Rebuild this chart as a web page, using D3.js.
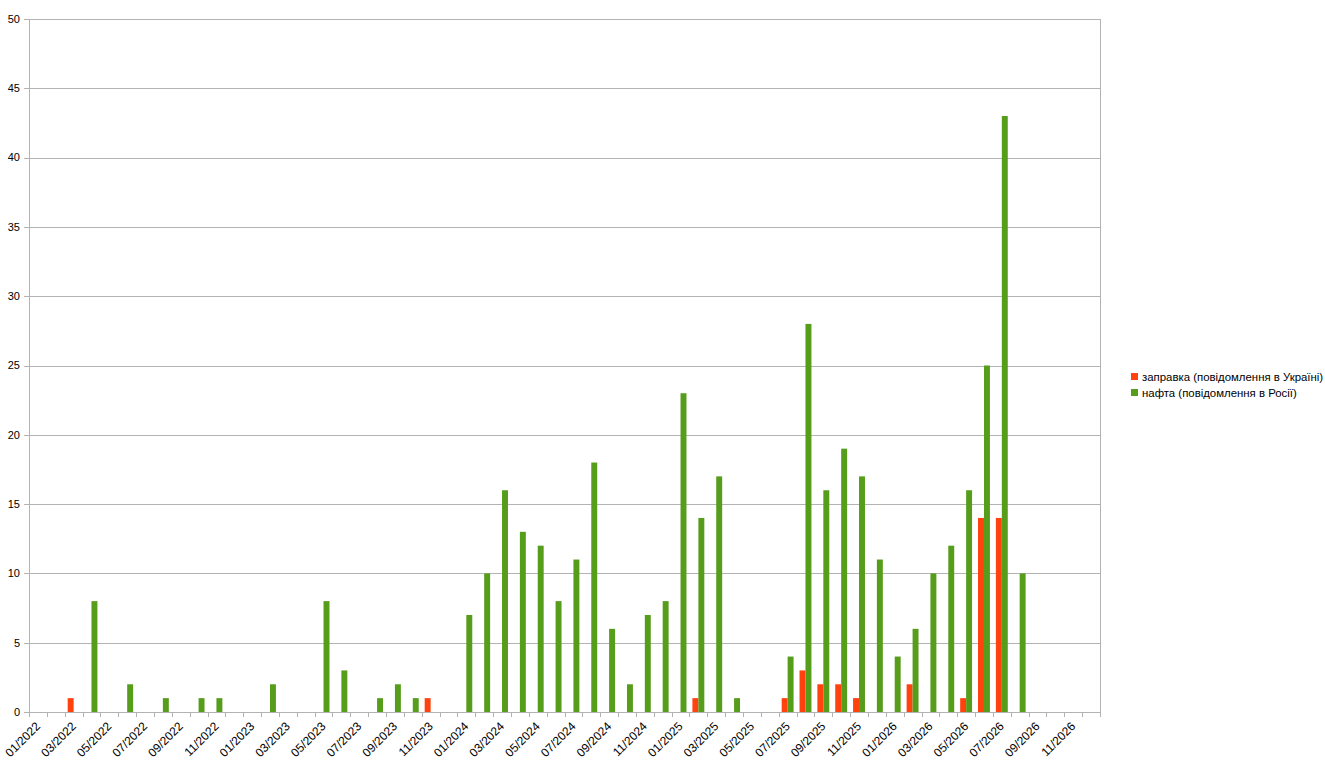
<!DOCTYPE html>
<html>
<head>
<meta charset="utf-8">
<script src="https://cdn.jsdelivr.net/npm/d3@7"></script>
<style>
  body { margin: 0; background: #fff; }
  text { font-family: "Liberation Sans", Arial, sans-serif; font-size: 11px; fill: #000; }
</style>
</head>
<body>
<div id="chart"></div>
<script>
// months 01/2022 .. 12/2026
var months = [];
for (var y = 2022; y <= 2026; y++) {
  for (var m = 1; m <= 12; m++) {
    months.push((m < 10 ? "0" : "") + m + "/" + y);
  }
}

var seriesNames = ["заправка (повідомлення в Україні)", "нафта (повідомлення в Росії)"];
var seriesColors = ["#ff420e", "#579d1c"];

// заправка (Ukraine), by month index
var fuel = [
  0, 0, 1, 0, 0, 0, 0, 0, 0, 0, 0, 0,
  0, 0, 0, 0, 0, 0, 0, 0, 0, 0, 1, 0,
  0, 0, 0, 0, 0, 0, 0, 0, 0, 0, 0, 0,
  0, 1, 0, 0, 0, 0, 1, 3, 2, 2, 1, 0,
  0, 2, 0, 0, 1, 14, 14, 0, 0, 0, 0, 0
];
// нафта (Russia)
var oil = [
  0, 0, 0, 8, 0, 2, 0, 1, 0, 1, 1, 0,
  0, 2, 0, 0, 8, 3, 0, 1, 2, 1, 0, 0,
  7, 10, 16, 13, 12, 8, 11, 18, 6, 2, 7, 8,
  23, 14, 17, 1, 0, 0, 4, 28, 16, 19, 17, 11,
  4, 6, 10, 12, 16, 25, 43, 10, 0, 0, 0, 0
];

var yTicks = [0, 5, 10, 15, 20, 25, 30, 35, 40, 45, 50];

var W = 1325, H = 763;
var margin = { left: 29, top: 19, right: 225, bottom: 51 };

var svg = d3.select("#chart").append("svg")
  .attr("width", W)
  .attr("height", H);

var x = d3.scaleBand()
  .domain(months)
  .range([margin.left, W - margin.right])
  .paddingInner(0)
  .paddingOuter(0);

// two bars per month, centred in the band
var x1 = d3.scaleBand()
  .domain([0, 1])
  .range([0, x.bandwidth()])
  .paddingOuter(0.5)
  .paddingInner(0);

var yScale = d3.scaleLinear()
  .domain([0, 50])
  .range([H - margin.bottom, margin.top]);

// grid
svg.append("g")
  .selectAll("line")
  .data(yTicks)
  .enter()
  .append("line")
  .attr("x1", margin.left - 5)
  .attr("x2", W - margin.right)
  .attr("y1", function (d) { return Math.round(yScale(d)) + 0.5; })
  .attr("y2", function (d) { return Math.round(yScale(d)) + 0.5; })
  .style("stroke", "#b3b3b3")
  .style("stroke-width", "1px");

// y labels
svg.append("g")
  .selectAll("text")
  .data(yTicks)
  .enter()
  .append("text")
  .attr("x", margin.left - 9)
  .attr("y", function (d) { return yScale(d); })
  .attr("dy", "0.35em")
  .attr("text-anchor", "end")
  .text(function (d) { return d; });

// frame sides
svg.append("line")
  .attr("x1", margin.left + 0.5).attr("x2", margin.left + 0.5)
  .attr("y1", margin.top).attr("y2", H - margin.bottom)
  .style("stroke", "#b3b3b3");
svg.append("line")
  .attr("x1", W - margin.right + 0.5).attr("x2", W - margin.right + 0.5)
  .attr("y1", margin.top).attr("y2", H - margin.bottom + 5)
  .style("stroke", "#b3b3b3");

// x ticks on category boundaries
svg.append("g")
  .selectAll("line")
  .data(months)
  .enter()
  .append("line")
  .attr("x1", function (d) { return Math.round(x(d)) + 0.5; })
  .attr("x2", function (d) { return Math.round(x(d)) + 0.5; })
  .attr("y1", H - margin.bottom)
  .attr("y2", H - margin.bottom + 5)
  .style("stroke", "#b3b3b3");

// bars
[fuel, oil].forEach(function (vals, s) {
  var pts = vals.map(function (v, i) { return { month: months[i], value: v }; })
    .filter(function (d) { return d.value > 0; });
  svg.append("g")
    .selectAll("rect")
    .data(pts)
    .enter()
    .append("rect")
    .attr("x", function (d) { return x(d.month) + x1(s); })
    .attr("width", x1.bandwidth())
    .attr("y", function (d) { return yScale(d.value); })
    .attr("height", function (d) { return yScale(0) - yScale(d.value); })
    .style("fill", seriesColors[s]);
});

// x labels, every second month
svg.append("g")
  .selectAll("text")
  .data(months.filter(function (d, i) { return i % 2 === 0; }))
  .enter()
  .append("text")
  .attr("text-anchor", "end")
  .style("font-size", "12px")
  .attr("transform", function (d) {
    return "translate(" + (x(d) + x.bandwidth() / 2 + 3) + "," + (H - margin.bottom + 15) + ") rotate(-45)";
  })
  .text(function (d) { return d; });

// legend
var legend = svg.append("g")
  .attr("transform", "translate(1131,373)");
seriesNames.forEach(function (name, i) {
  legend.append("rect")
    .attr("x", 0)
    .attr("y", i * 16)
    .attr("width", 7)
    .attr("height", 7)
    .style("fill", seriesColors[i]);
  legend.append("text")
    .attr("x", 11)
    .attr("y", i * 16 + 8)
    .style("font-size", "11.4px")
    .text(name);
});
</script>
</body>
</html>
